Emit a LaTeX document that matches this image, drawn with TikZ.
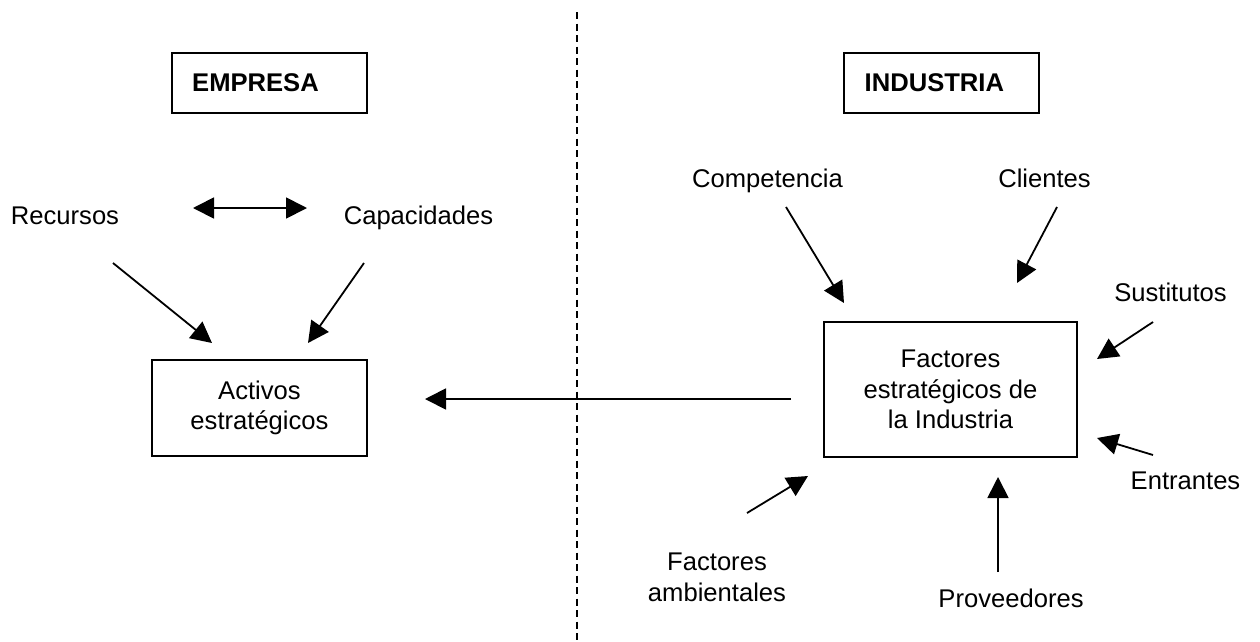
\documentclass[tikz,border=0pt]{standalone}
\usepackage{fontspec}
\setmainfont{Liberation Sans}
\usetikzlibrary{arrows.meta}
\begin{document}
\begin{tikzpicture}[x=1pt,y=-1pt,
  every node/.style={font=\fontsize{25.6}{30.6}\selectfont, inner sep=0pt},
  lbl/.style={anchor=base, align=center},
  titlebox/.style={draw, line width=2pt, minimum width=195pt, minimum height=60pt},
  titletext/.style={anchor=west, font=\fontsize{25.6}{30.6}\selectfont\bfseries},
  mainbox/.style={draw, line width=2pt, align=center},
  arr/.style={line width=1.8pt, -{Triangle[length=21pt,width=21pt]}},
  dblarr/.style={line width=1.8pt, {Triangle[length=21pt,width=21pt]}-{Triangle[length=21pt,width=21pt]}},
  divider/.style={line width=1.6pt, dash pattern=on 7pt off 4.5pt}
]
\useasboundingbox (0,0) rectangle (1260,641);

% dividing line between the two halves
\coordinate (divtop) at (577,12);
\coordinate (divbot) at (577,641);
\draw[divider] (divtop) -- (divbot);

% headings
\node[titlebox] (empresa) at (269.5,83) {};
\node[titletext] (empresaT) at ([xshift=21pt]empresa.west) {EMPRESA};
\node[titlebox] (industria) at (941,83) {};
\node[titletext] (industriaT) at ([xshift=22pt]industria.west) {INDUSTRIA};

% left half: firm
\node[lbl] (recursos) at (65,224) {Recursos};
\node[lbl] (capacidades) at (418.5,224) {Capacidades};
\node[mainbox, minimum width=215pt, minimum height=96pt] (activos) at (259.5,408) {Activos\\estratégicos};

\coordinate (dblL) at (193,208);
\coordinate (dblR) at (307,208);
\draw[dblarr] (dblL) -- (dblR);

\coordinate (recS) at (113,263);
\coordinate (recE) at (212,343);
\draw[arr] (recS) -- (recE);
\coordinate (capS) at (364,263);
\coordinate (capE) at (308,343);
\draw[arr] (capS) -- (capE);

% right half: industry
\node[mainbox, minimum width=253pt, minimum height=135pt] (factores) at (950.5,389.5) {Factores\\estratégicos de\\la Industria};

\node[lbl] (competencia) at (767.5,187) {Competencia};
\node[lbl] (clientes) at (1044.5,187) {Clientes};
\node[lbl] (sustitutos) at (1170.5,301) {Sustitutos};
\node[lbl] (entrantes) at (1185.5,489) {Entrantes};
\node[lbl] (proveedores) at (1011,607) {Proveedores};
\node[align=center] (ambientales) at (717,577.5) {Factores\\ambientales};

\coordinate (comS) at (786,207);
\coordinate (comE) at (844,303);
\draw[arr] (comS) -- (comE);
\coordinate (cliS) at (1057,207);
\coordinate (cliE) at (1017,283);
\draw[arr] (cliS) -- (cliE);
\coordinate (susS) at (1153,322);
\coordinate (susE) at (1097,359);
\draw[arr] (susS) -- (susE);
\coordinate (entS) at (1153,455);
\coordinate (entE) at (1097,438);
\draw[arr] (entS) -- (entE);
\coordinate (proS) at (998,572);
\coordinate (proE) at (998,477);
\draw[arr] (proS) -- (proE);
\coordinate (ambS) at (747,513);
\coordinate (ambE) at (808,476);
\draw[arr] (ambS) -- (ambE);

% industry factors feed the firm's strategic assets
\coordinate (linkS) at (791,399);
\coordinate (linkE) at (425,399);
\draw[arr] (linkS) -- (linkE);
\end{tikzpicture}
\end{document}
